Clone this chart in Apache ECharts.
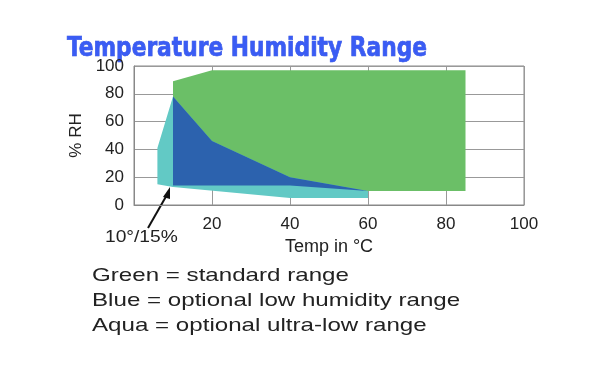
<!DOCTYPE html>
<html><head><meta charset="utf-8">
<script src="https://cdn.jsdelivr.net/npm/echarts@6/dist/echarts.min.js"></script>
<style>html,body{margin:0;padding:0;background:#fff}#c{width:594px;height:366px}</style>
</head><body><div id="c"></div>
<script>
// Polygons: [temperature °C, %RH]
const greenRange = [[10,89],[20,97],[85,97],[85,10],[60,10],[10,14]];
const aquaRange  = [[6,41],[10,78],[20,46],[40,20],[60,10],[60,5],[40,5],[10,13],[6,15]];
const blueRange  = [[10,78],[20,46],[40,20],[60,10],[40,14],[10,14]];
const xTicks = [0,20,40,60,80,100];
const yTicks = [0,20,40,60,80,100];
const titleText = 'Temperature Humidity Range';
const annotationText = '10°/15%';
const legendLines = ['Green = standard range','Blue = optional low humidity range','Aqua = optional ultra-low range'];

const chart = echarts.init(document.getElementById('c'));
function polySeries(name, pts, color){
  return {
    type:'custom', name, data: pts, coordinateSystem:'cartesian2d',
    renderItem: function(params, api){
      if (params.dataIndex !== 0) return null;
      return {type:'polygon', shape:{points: pts.map(p => api.coord(p))}, style:{fill: color}};
    },
    silent:true, z:2
  };
}
const font = 'Liberation Sans, Arial, sans-serif';
chart.setOption({
  animation:false,
  grid:{left:134, right:70, top:66, bottom:161, show:true, borderColor:'#888', borderWidth:1},
  xAxis:{type:'value', min:xTicks[0], max:xTicks[xTicks.length-1], interval:20,
    name:'Temp in °C', nameLocation:'middle', nameGap:33,
    nameTextStyle:{fontFamily:font, fontSize:18, color:'#222'},
    axisLine:{show:true, lineStyle:{color:'#888'}}, axisTick:{show:false},
    axisLabel:{fontFamily:font, fontSize:17, color:'#222', margin:11, formatter: v => v===0 ? '' : String(v)},
    splitLine:{show:true, lineStyle:{color:'#999', width:1}}},
  yAxis:{type:'value', min:yTicks[0], max:yTicks[yTicks.length-1], interval:20,
    name:'% RH', nameLocation:'middle', nameGap:46, nameRotate:90,
    nameTextStyle:{fontFamily:font, fontSize:17, color:'#222'},
    axisLine:{show:true, lineStyle:{color:'#888'}}, axisTick:{show:false},
    axisLabel:{fontFamily:font, fontSize:17, color:'#222', margin:10},
    splitLine:{show:true, lineStyle:{color:'#999', width:1}}},
  series:[
    polySeries('Green', greenRange, '#6bbf67'),
    polySeries('Aqua', aquaRange, '#62c9c5'),
    polySeries('Blue', blueRange, '#2c62ae')
  ],
  graphic:[
    {type:'text', x:67, y:36, scaleX:0.93, style:{text:titleText, font:'bold 26px "DejaVu Sans Condensed", "DejaVu Sans"', fill:'#3a5cf4', stroke:'#2a48d8', lineWidth:0.6}},
    {type:'text', x:105, y:230, scaleX:1.2, style:{text:annotationText, font:'16px '+font, fill:'#222'}},
    {type:'line', shape:{x1:148, y1:228, x2:168, y2:193}, style:{stroke:'#111', lineWidth:2}},
    {type:'polygon', shape:{points:[[170,187],[163,197],[170,199]]}, style:{fill:'#111'}},
    {type:'text', x:92, y:263, scaleX:1.27, style:{text:legendLines.join('\n'), font:'19px '+font, fill:'#222', lineHeight:25}}
  ]
});
</script></body></html>
